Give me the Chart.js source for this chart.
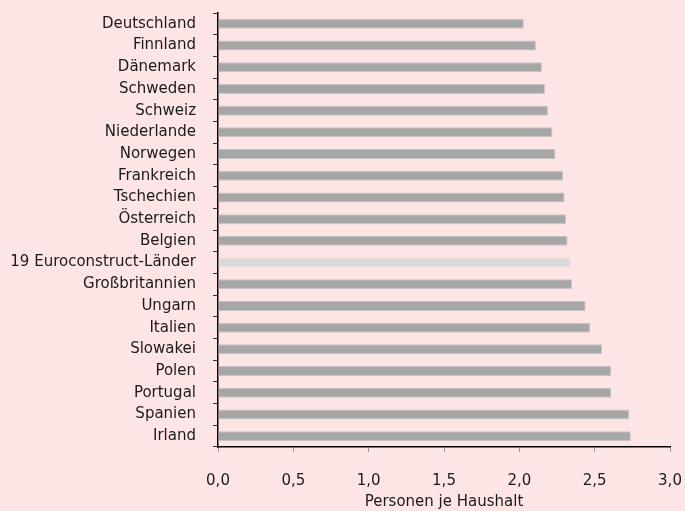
<!DOCTYPE html>
<html>
<head>
<meta charset="utf-8">
<script src="https://cdn.jsdelivr.net/npm/chart.js@4"></script>
<style>
  html, body { margin: 0; padding: 0; background: #fee5e5; }
  #wrap { width: 685px; height: 511px; }
</style>
</head>
<body>
<div id="wrap"><canvas id="c" width="685" height="511"></canvas></div>
<script>
const categories = [
  "Deutschland", "Finnland", "Dänemark", "Schweden", "Schweiz",
  "Niederlande", "Norwegen", "Frankreich", "Tschechien", "Österreich",
  "Belgien", "19 Euroconstruct-Länder", "Großbritannien", "Ungarn", "Italien",
  "Slowakei", "Polen", "Portugal", "Spanien", "Irland"
];
const values = [
  2.03, 2.11, 2.15, 2.17, 2.19,
  2.22, 2.24, 2.29, 2.30, 2.31,
  2.32, 2.34, 2.35, 2.44, 2.47,
  2.55, 2.61, 2.61, 2.73, 2.74
];
const highlight = "19 Euroconstruct-Länder";
const xTicks = [0, 0.5, 1.0, 1.5, 2.0, 2.5, 3.0];
const xTitle = "Personen je Haushalt";

const barColors = categories.map(c => c === highlight ? "#d9d9d9" : "#a6a6a6");
const borderColors = categories.map(c => c === highlight ? "#e6e0e0" : "#cbc3c3");

const bgPlugin = {
  id: "bg",
  beforeDraw(chart) {
    const ctx = chart.ctx;
    ctx.save();
    ctx.fillStyle = "#fee5e5";
    ctx.fillRect(0, 0, chart.width, chart.height);
    ctx.restore();
  }
};

new Chart(document.getElementById("c"), {
  type: "bar",
  data: {
    labels: categories,
    datasets: [{
      data: values,
      backgroundColor: barColors,
      borderColor: borderColors,
      borderWidth: 1,
      borderSkipped: "left",
      categoryPercentage: 1,
      barPercentage: 0.46
    }]
  },
  options: {
    indexAxis: "y",
    responsive: false,
    animation: false,
    layout: { padding: { top: 13, right: 15, left: 0, bottom: 0 } },
    plugins: { legend: { display: false }, tooltip: { enabled: false } },
    scales: {
      x: {
        min: 0, max: 3,
        afterBuildTicks(axis) { axis.ticks = xTicks.map(v => ({ value: v })); },
        afterFit(axis) {
          axis.height = 64;
          axis.paddingLeft = 0; axis.paddingRight = 0;
        },
        border: { color: "#000000", width: 1.5 },
        grid: { drawOnChartArea: false, tickLength: 5, tickColor: "#999999" },
        ticks: {
          color: "#1a1a1a",
          padding: 20,
          font: { family: "DejaVu Sans", size: 15 },
          callback: v => Number(v).toFixed(1).replace(".", ",")
        },
        title: {
          display: true,
          text: xTitle,
          color: "#1a1a1a",
          font: { family: "DejaVu Sans", size: 15 },
          padding: { top: 2, bottom: 0 }
        }
      },
      y: {
        afterFit(axis) {
          axis.width = 218;
          axis.paddingTop = 0; axis.paddingBottom = 0;
        },
        border: { color: "#000000", width: 1.5 },
        grid: { drawOnChartArea: false, offset: true, tickLength: 5, tickColor: "#333333" },
        ticks: {
          color: "#1a1a1a",
          padding: 17,
          autoSkip: false,
          font: { family: "DejaVu Sans", size: 15 }
        }
      }
    }
  },
  plugins: [bgPlugin]
});
</script>
</body>
</html>
